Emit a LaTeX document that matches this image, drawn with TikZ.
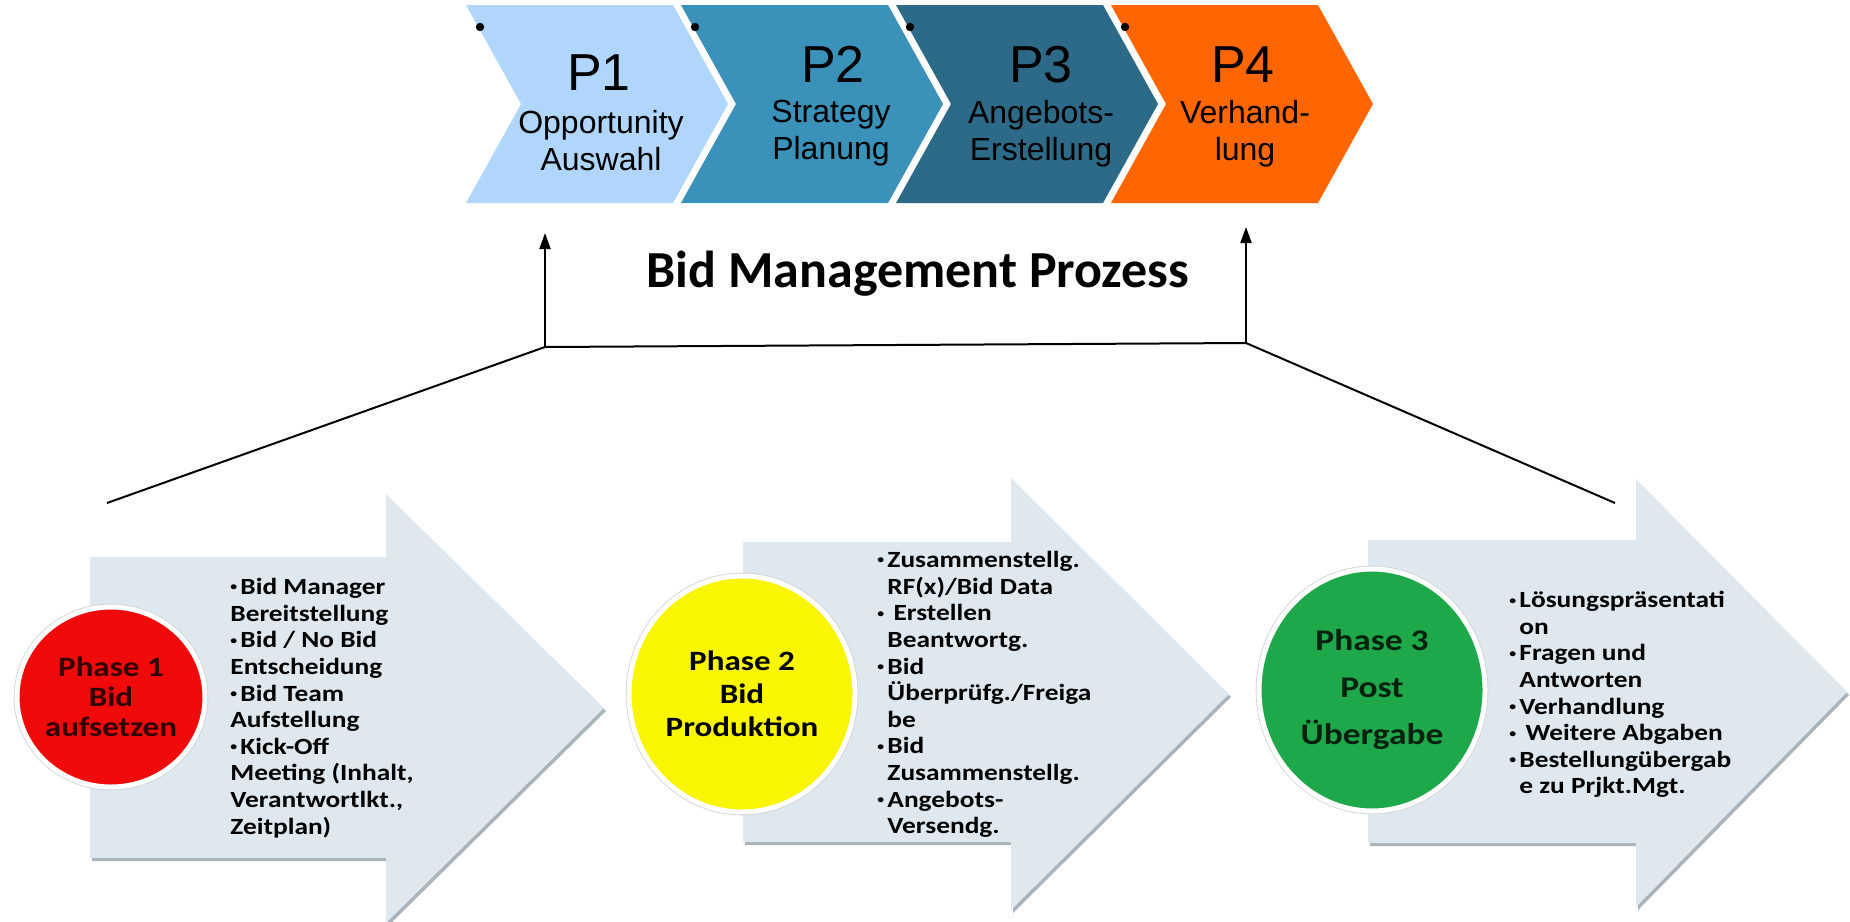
\documentclass[tikz,border=0pt]{standalone}
\usepackage{fontspec}
\setmainfont{Liberation Sans}
\newfontfamily\phasefont[FakeStretch=1.18]{Carlito}
\newfontfamily\titlefont{Carlito}
\usetikzlibrary{shapes.geometric,arrows.meta}

\definecolor{pone}{HTML}{B0D6FC}
\definecolor{ptwo}{HTML}{3A91BA}
\definecolor{pthree}{HTML}{2C6A88}
\definecolor{pfour}{HTML}{FF6600}
\definecolor{arrowfill}{HTML}{DEE8EE}
\definecolor{arrowshade}{HTML}{A9B4BA}
\definecolor{phaseone}{HTML}{F00A0A}
\definecolor{phasetwo}{HTML}{FAF500}
\definecolor{phasethree}{HTML}{1EA84A}

\tikzset{
  plabel/.style={anchor=base,inner sep=0pt,font=\fontsize{26}{26}\selectfont},
  psub/.style={align=center,inner sep=0pt,font=\fontsize{16}{18.5}\selectfont},
  phase/.style={ellipse,draw=white,line width=2.5pt,fill=#1,inner sep=0pt,align=center,
    preaction={draw=black!18,line width=3.3pt},
    font=\phasefont\bfseries\fontsize{14}{15}\selectfont},
  bullets/.style={anchor=north west,align=left,inner sep=0pt,
    font=\phasefont\bfseries\fontsize{11.6}{13.3}\selectfont},
  link/.style={line width=1pt},
  up/.style={link,-{Triangle[length=8pt,width=5.5pt]}},
}
\newcommand\bul{\raisebox{0.16em}{\scalebox{0.5}{•}}\kern1.6pt}
\newcommand\ind{\hphantom{\bul}}

\begin{document}
\begin{tikzpicture}[x=0.5pt,y=-0.5pt]
  \useasboundingbox (0,0) rectangle (1850,921);

  % process chevrons
  \foreach \x/\c in {466/pone,681/ptwo,896/pthree,1111/pfour}{
    \fill[\c,shift={(\x,0)}] (0,5) -- (207,5) -- (262,104) -- (207,203) -- (0,203) -- (55,104) -- cycle;
    \fill[shift={(\x,0)}] (14,27) circle (4.2);%bullet left over
  }
  \node[plabel] (p1) at (599,90) {P1};
  \node[psub] (p1sub) at (601,141) {Opportunity\\Auswahl};
  \node[plabel] (p2) at (833,82) {P2};
  \node[psub] (p2sub) at (831,133) {Strategy\\Planung};
  \node[plabel] (p3) at (1041,82) {P3};
  \node[psub] (p3sub) at (1041,134) {Angebots-\\Erstellung};
  \node[plabel] (p4) at (1243,82) {P4};
  \node[psub] (p4sub) at (1245,134) {Verhand-\\lung};

  \node[anchor=base,font=\titlefont\bfseries\fontsize{26}{26}\selectfont] (title) at (918,287) {Bid Management Prozess};

  % bracket up to P1 / P4
  \coordinate (barL) at (545,347);
  \coordinate (barR) at (1246,343);
  \coordinate (legL) at (107,503);
  \coordinate (legR) at (1615,503);
  \coordinate (tipL) at (545,233);
  \coordinate (tipR) at (1246,227);
  \draw[link] (legL) -- (barL) -- (barR) -- (legR);
  \draw[up] (barL) -- (tipL);
  \draw[up] (barR) -- (tipR);

  % phase arrows
  \fill[arrowshade,shift={(2,3)}]
    (90,557) -- (386,557) -- (386,494) -- (604,708) -- (386,923) -- (386,858) -- (90,858) -- cycle;
  \fill[arrowfill]
    (90,557) -- (386,557) -- (386,494) -- (604,708) -- (386,923) -- (386,858) -- (90,858) -- cycle;
  \fill[arrowshade,shift={(2,3)}]
    (743,542) -- (1011,542) -- (1011,478) -- (1229,694) -- (1011,910) -- (1011,842) -- (743,842) -- cycle;
  \fill[arrowfill]
    (743,542) -- (1011,542) -- (1011,478) -- (1229,694) -- (1011,910) -- (1011,842) -- (743,842) -- cycle;
  \fill[arrowshade,shift={(2,3)}]
    (1368,540) -- (1636,540) -- (1636,479) -- (1847,692) -- (1636,907) -- (1636,843) -- (1368,843) -- cycle;
  \fill[arrowfill]
    (1368,540) -- (1636,540) -- (1636,479) -- (1847,692) -- (1636,907) -- (1636,843) -- (1368,843) -- cycle;

  % phase circles
  \node[phase=phaseone,minimum width=94pt,minimum height=90pt,text=black!80!red] (ph1) at (111,697)
    {Phase 1\\Bid\\aufsetzen};
  \node[phase=phasetwo,minimum width=113pt,minimum height=118pt,font=\phasefont\bfseries\fontsize{14}{16.5}\selectfont] (ph2) at (742,694)
    {Phase 2\\Bid\\Produktion};
  \node[phase=phasethree,minimum width=113pt,minimum height=121pt,text=black!80!phasethree,
    font=\phasefont\bfseries\fontsize{15}{23.5}\selectfont] (ph3) at (1372,690)
    {Phase 3\\Post\\Übergabe};

  % task lists
  \node[bullets] (tasks1) at (230,578)
    {\bul Bid Manager\\Bereitstellung\\\bul Bid / No Bid\\Entscheidung\\\bul Bid Team\\Aufstellung\\\bul Kick-Off\\Meeting (Inhalt,\\Verantwortlkt.,\\Zeitplan)};
  \node[bullets] (tasks2) at (877,551)
    {\bul Zusammenstellg.\\\ind RF(x)/Bid Data\\\bul\ Erstellen\\\ind Beantwortg.\\\bul Bid\\\ind Überprüfg./Freiga\\\ind be\\\bul Bid\\\ind Zusammenstellg.\\\bul Angebots-\\\ind Versendg.};
  \node[bullets] (tasks3) at (1509,591)
    {\bul Lösungspräsentati\\\ind on\\\bul Fragen und\\\ind Antworten\\\bul Verhandlung\\\bul\ Weitere Abgaben\\\bul Bestellungübergab\\\ind e zu Prjkt.Mgt.};
\end{tikzpicture}
\end{document}
